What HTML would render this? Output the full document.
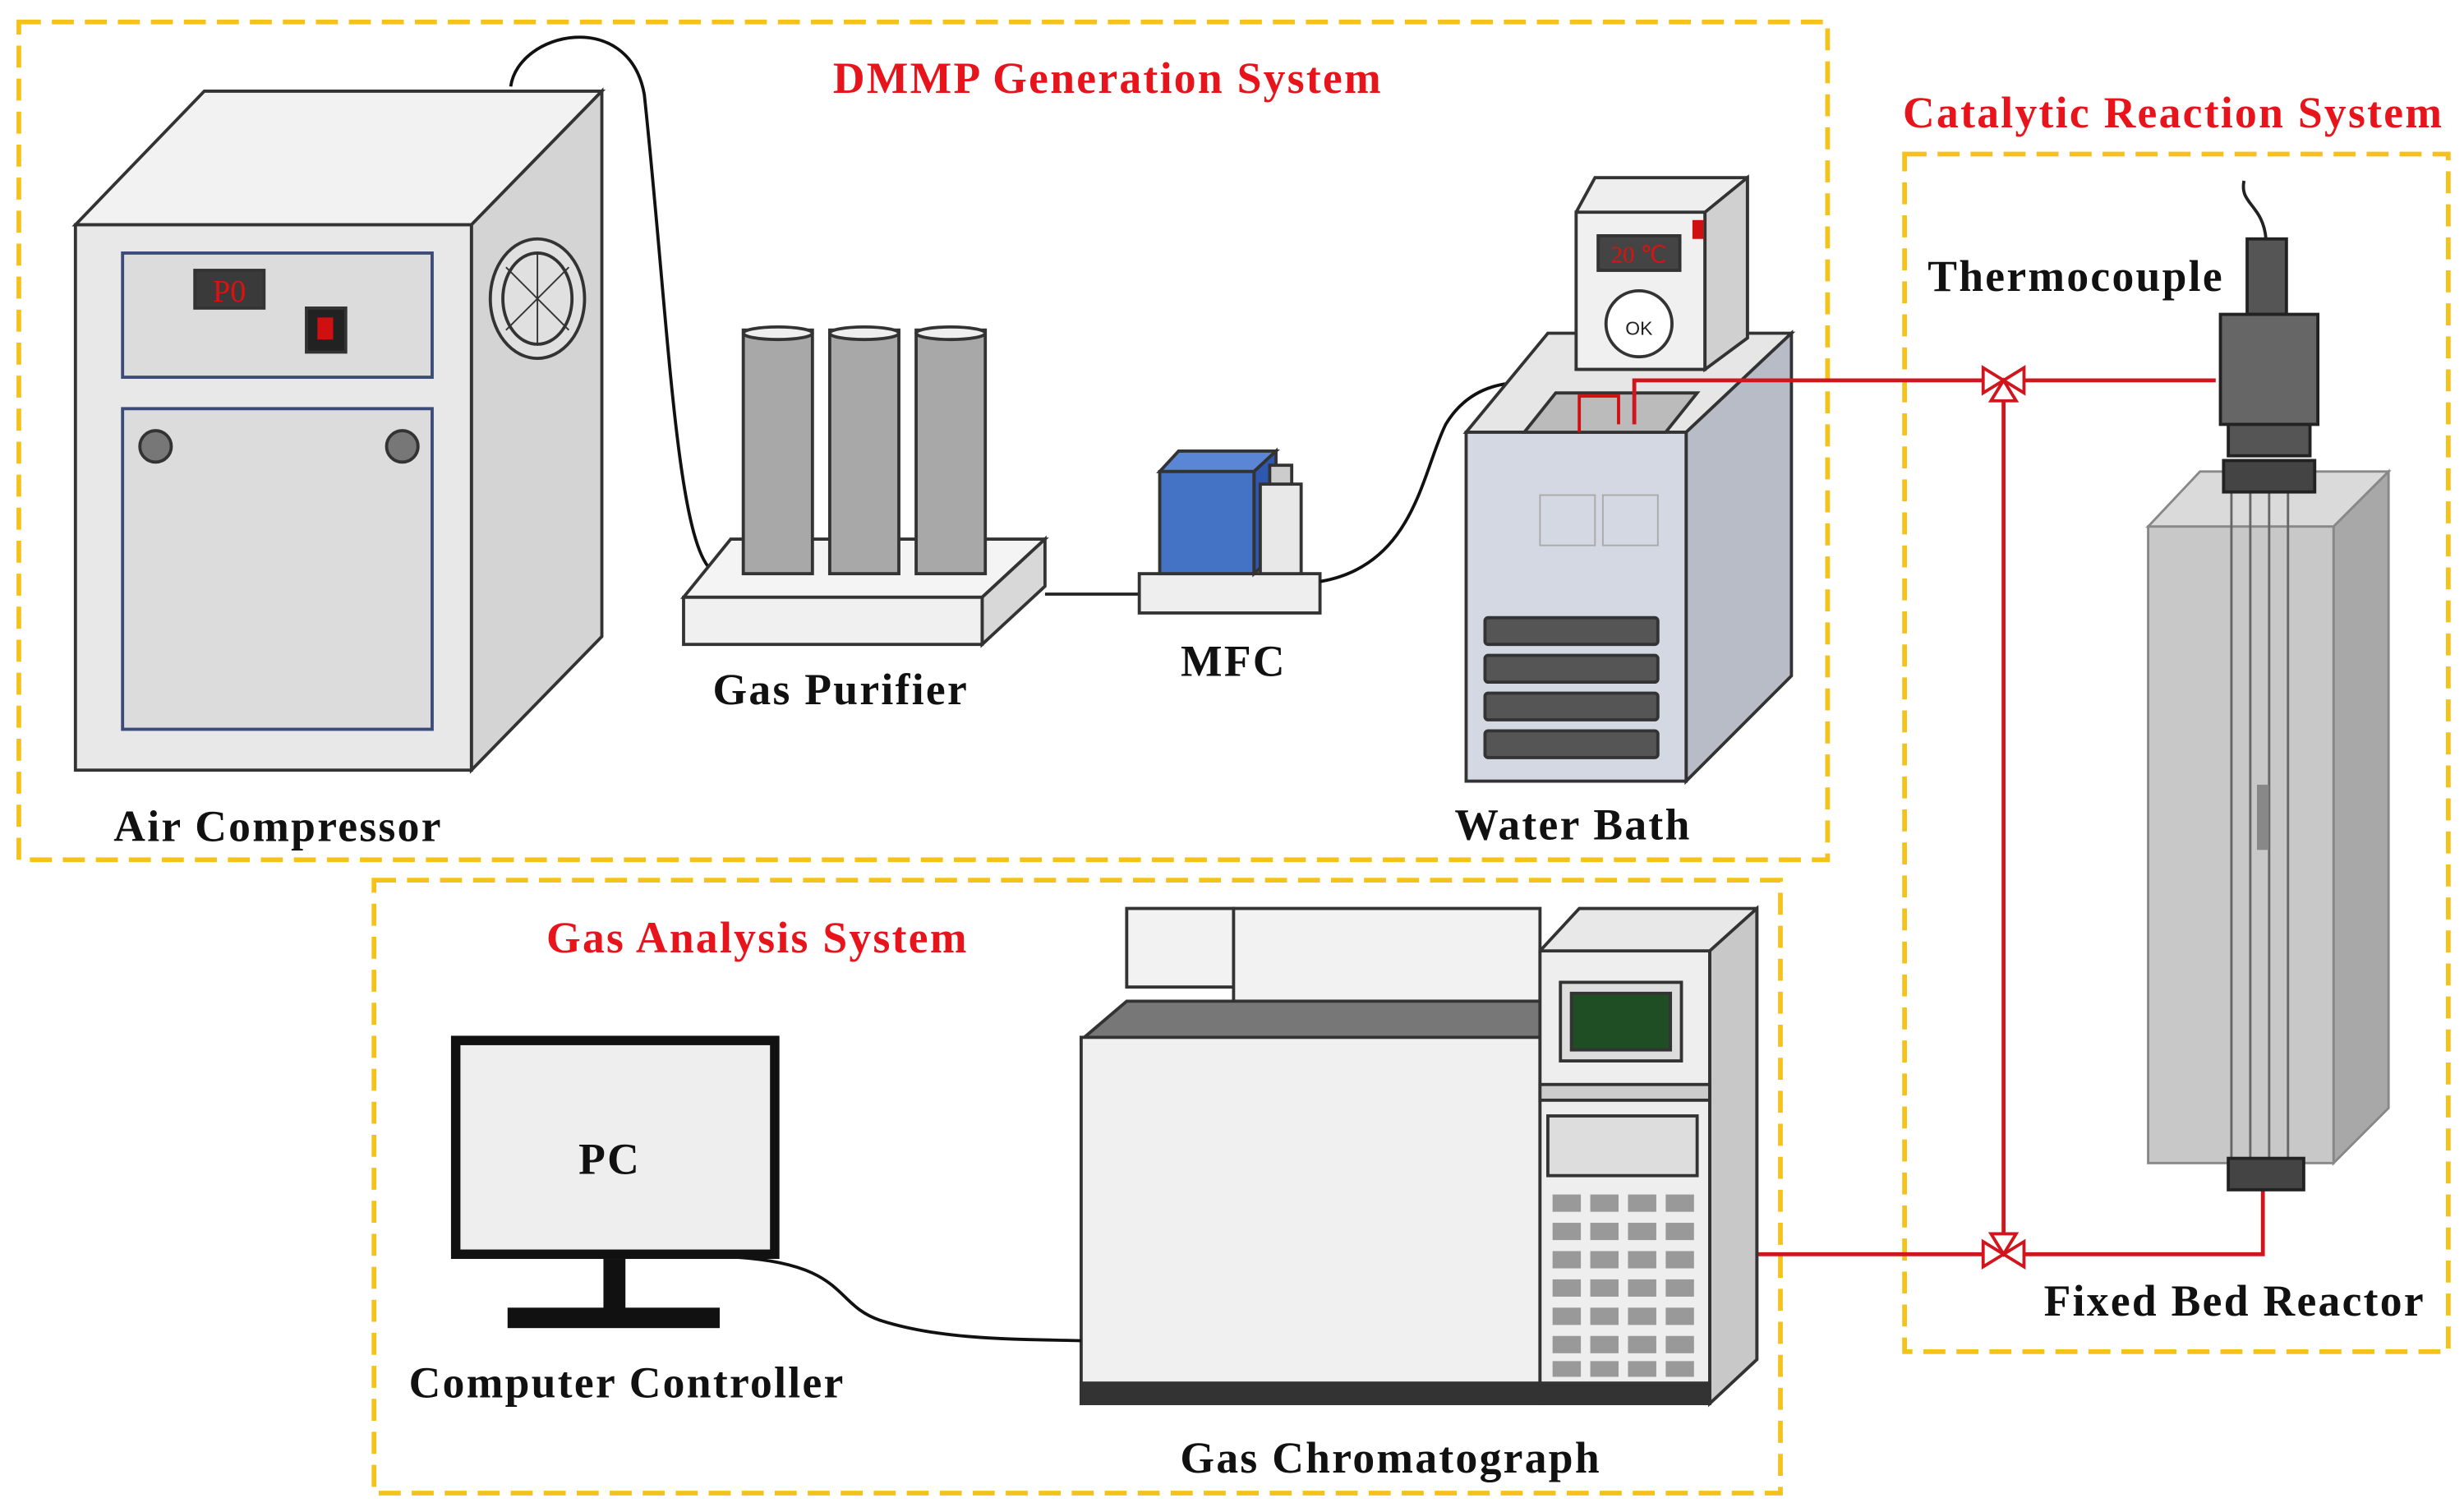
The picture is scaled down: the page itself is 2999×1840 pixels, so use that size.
<!DOCTYPE html>
<html><head><meta charset="utf-8"><style>
html,body{margin:0;padding:0;background:#fff}
svg{display:block}
.t{font-family:"Liberation Serif",serif;font-weight:bold;font-size:28px;letter-spacing:1.2px;fill:#111;text-anchor:middle}
.r{fill:#e8141c}
.box{fill:none;stroke:#f5c21b;stroke-width:3;stroke-dasharray:14,7}
</style></head><body>
<svg width="2999" height="1840" viewBox="0 0 1568 962" xmlns="http://www.w3.org/2000/svg">
<rect x="0" y="0" width="1568" height="962" fill="#fff"/>
<rect class="box" x="12" y="14" width="1151" height="533"/>
<rect class="box" x="1212" y="98" width="346" height="762"/>
<rect class="box" x="238" y="560" width="895" height="390"/>
<text class="t r" x="705" y="59">DMMP Generation System</text>
<text class="t r" x="1383" y="81">Catalytic Reaction System</text>
<text class="t r" x="482" y="606">Gas Analysis System</text>

<g stroke="#333" stroke-width="2">
<polygon points="48,143 130,58 383,58 300,143" fill="#f2f2f2"/>
<polygon points="300,143 383,58 383,405 300,490" fill="#d4d4d4"/>
<rect x="48" y="143" width="252" height="347" fill="#e8e8e8"/>
<rect x="78" y="161" width="197" height="79" fill="#dcdcdc" stroke="#3a4a7a"/>
<rect x="78" y="260" width="197" height="204" fill="#dcdcdc" stroke="#3a4a7a"/>
<rect x="124" y="172" width="44" height="24" fill="#3a3a3a"/>
<rect x="195" y="196" width="25" height="28" fill="#222"/>
<circle cx="99" cy="284" r="10" fill="#777"/>
<circle cx="256" cy="284" r="10" fill="#777"/>
<ellipse cx="342" cy="190" rx="30" ry="38" fill="#e0e0e0"/>
<ellipse cx="342" cy="190" rx="22" ry="29" fill="none"/>
<line x1="322" y1="170" x2="362" y2="210" stroke-width="1"/>
<line x1="362" y1="170" x2="322" y2="210" stroke-width="1"/>
<line x1="342" y1="160" x2="342" y2="220" stroke-width="1"/>
</g>
<text x="146" y="192" font-family="Liberation Serif" font-size="20" fill="#e01010" text-anchor="middle">P0</text>
<rect x="202" y="202" width="10" height="14" fill="#d01010"/>
<path d="M325,55 C330,20 400,5 410,60 C425,200 430,340 452,362" fill="none" stroke="#111" stroke-width="2"/>
<text class="t" x="177" y="535">Air Compressor</text>

<g stroke="#333" stroke-width="2">
<polygon points="435,380 465,343 665,343 625,380" fill="#f4f4f4"/>
<polygon points="625,380 665,343 665,373 625,410" fill="#d8d8d8"/>
<rect x="435" y="380" width="190" height="30" fill="#f0f0f0"/>
<rect x="473" y="210" width="44" height="155" fill="#a8a8a8"/>
<rect x="528" y="210" width="44" height="155" fill="#a8a8a8"/>
<rect x="583" y="210" width="44" height="155" fill="#a8a8a8"/>
<ellipse cx="495" cy="212" rx="22" ry="4" fill="#eee"/>
<ellipse cx="550" cy="212" rx="22" ry="4" fill="#eee"/>
<ellipse cx="605" cy="212" rx="22" ry="4" fill="#eee"/>
</g>
<text class="t" x="535" y="448">Gas Purifier</text>
<line x1="665" y1="378" x2="725" y2="378" stroke="#222" stroke-width="2"/>

<g stroke="#333" stroke-width="2">
<rect x="725" y="365" width="115" height="25" fill="#eee"/>
<polygon points="738,300 750,287 812,287 798,300" fill="#5b86d6"/>
<polygon points="798,300 812,287 812,352 798,365" fill="#2e58b0"/>
<rect x="738" y="300" width="60" height="65" fill="#4472c4"/>
<rect x="802" y="308" width="26" height="57" fill="#e8e8e8"/>
<rect x="808" y="296" width="14" height="12" fill="#ccc"/>
</g>
<text class="t" x="785" y="430">MFC</text>
<path d="M840,370 C900,360 905,300 920,270 C935,245 960,240 990,245" fill="none" stroke="#111" stroke-width="2"/>

<g stroke="#333" stroke-width="2">
<polygon points="933,275 985,212 1140,212 1073,275" fill="#e6e6e6"/>
<polygon points="1073,275 1140,212 1140,430 1073,497" fill="#b8bcc6"/>
<rect x="933" y="275" width="140" height="222" fill="#d4d8e2"/>
<polygon points="970,275 990,250 1080,250 1060,275" fill="#bbb"/>
<rect x="945" y="393" width="110" height="17" fill="#555" rx="2"/>
<rect x="945" y="417" width="110" height="17" fill="#555" rx="2"/>
<rect x="945" y="441" width="110" height="17" fill="#555" rx="2"/>
<rect x="945" y="465" width="110" height="17" fill="#555" rx="2"/>
<rect x="980" y="315" width="35" height="32" fill="none" stroke="#aaa" stroke-width="1"/>
<rect x="1020" y="315" width="35" height="32" fill="none" stroke="#aaa" stroke-width="1"/>
<polygon points="1003,135 1015,113 1112,113 1112,215 1085,235 1003,235" fill="#eee"/>
<rect x="1003" y="135" width="82" height="100" fill="#f0f0f0"/>
<polygon points="1085,135 1112,113 1112,215 1085,235" fill="#d0d0d0"/>
<rect x="1017" y="150" width="52" height="22" fill="#444"/>
<circle cx="1043" cy="206" r="21" fill="#fff"/>
<rect x="1077" y="140" width="7" height="12" fill="#d01010" stroke="none"/>
</g>
<text x="1043" y="167" font-family="Liberation Serif" font-size="15" fill="#e01010" text-anchor="middle">20 ℃</text>
<text x="1043" y="213" font-family="Liberation Sans" font-size="12" fill="#222" text-anchor="middle">OK</text>
<text class="t" x="1001" y="534">Water Bath</text>
<path d="M1005,275 V252 H1030 V270" fill="none" stroke="#d01010" stroke-width="2"/>

<g stroke="#d0161c" stroke-width="2.5" fill="none">
<path d="M1040,270 V242 H1410"/>
<path d="M1275,242 V798"/>
<path d="M1118,798 H1440 V757"/>
</g>
<g stroke="#d0161c" stroke-width="2" fill="#fff">
<polygon points="1262,234 1262,250 1288,234 1288,250"/>
<polygon points="1267,255 1283,255 1275,242"/>
<polygon points="1262,790 1262,806 1288,790 1288,806"/>
<polygon points="1267,785 1283,785 1275,798"/>
</g>

<g stroke="#888" stroke-width="1.5">
<polygon points="1367,335 1400,300 1520,300 1485,335" fill="#dadada"/>
<polygon points="1485,335 1520,300 1520,705 1485,740" fill="#a8a8a8"/>
<rect x="1367" y="335" width="118" height="405" fill="#c8c8c8"/>
<line x1="1420" y1="310" x2="1420" y2="740" stroke="#666"/>
<line x1="1432" y1="310" x2="1432" y2="740" stroke="#666"/>
<line x1="1444" y1="310" x2="1444" y2="740" stroke="#666"/>
<line x1="1456" y1="310" x2="1456" y2="740" stroke="#666"/>
<rect x="1437" y="500" width="6" height="40" fill="#888"/>
</g>
<g stroke="#222" stroke-width="2">
<path d="M1442,152 C1440,130 1425,130 1428,115" fill="none"/>
<rect x="1430" y="152" width="25" height="48" fill="#555"/>
<rect x="1413" y="200" width="62" height="70" fill="#666"/>
<rect x="1418" y="270" width="52" height="20" fill="#555"/>
<rect x="1415" y="293" width="58" height="20" fill="#444"/>
<rect x="1418" y="737" width="48" height="20" fill="#444"/>
</g>
<text class="t" x="1321" y="185">Thermocouple</text>
<text class="t" x="1422" y="837">Fixed Bed Reactor</text>

<g stroke="#333" stroke-width="2">
<rect x="717" y="578" width="68" height="50" fill="#f2f2f2"/>
<rect x="785" y="578" width="195" height="59" fill="#f2f2f2"/>
<polygon points="690,660 717,637 980,637 980,660" fill="#777"/>
<rect x="688" y="660" width="292" height="233" fill="#f0f0f0"/>
<rect x="688" y="880" width="292" height="13" fill="#333"/>
<polygon points="980,605 1005,578 1118,578 1118,865 1088,893 980,893" fill="#e8e8e8"/>
<polygon points="1088,605 1118,578 1118,865 1088,893" fill="#c8c8c8"/>
<rect x="980" y="605" width="108" height="288" fill="#eeeeee"/>
<rect x="993" y="625" width="77" height="50" fill="#ddd"/>
<rect x="1000" y="632" width="63" height="36" fill="#1f4d24"/>
<rect x="980" y="690" width="108" height="10" fill="#ccc"/>
<rect x="985" y="710" width="95" height="38" fill="#ddd"/>
<rect x="980" y="880" width="108" height="13" fill="#333"/>
</g>
<g fill="#999">
<rect x="988" y="760" width="18" height="11"/><rect x="1012" y="760" width="18" height="11"/><rect x="1036" y="760" width="18" height="11"/><rect x="1060" y="760" width="18" height="11"/>
<rect x="988" y="778" width="18" height="11"/><rect x="1012" y="778" width="18" height="11"/><rect x="1036" y="778" width="18" height="11"/><rect x="1060" y="778" width="18" height="11"/>
<rect x="988" y="796" width="18" height="11"/><rect x="1012" y="796" width="18" height="11"/><rect x="1036" y="796" width="18" height="11"/><rect x="1060" y="796" width="18" height="11"/>
<rect x="988" y="814" width="18" height="11"/><rect x="1012" y="814" width="18" height="11"/><rect x="1036" y="814" width="18" height="11"/><rect x="1060" y="814" width="18" height="11"/>
<rect x="988" y="832" width="18" height="11"/><rect x="1012" y="832" width="18" height="11"/><rect x="1036" y="832" width="18" height="11"/><rect x="1060" y="832" width="18" height="11"/>
<rect x="988" y="850" width="18" height="11"/><rect x="1012" y="850" width="18" height="11"/><rect x="1036" y="850" width="18" height="11"/><rect x="1060" y="850" width="18" height="11"/>
<rect x="988" y="866" width="18" height="10"/><rect x="1012" y="866" width="18" height="10"/><rect x="1036" y="866" width="18" height="10"/><rect x="1060" y="866" width="18" height="10"/>
</g>
<text class="t" x="885" y="937">Gas Chromatograph</text>

<rect x="290" y="662" width="203" height="136" fill="#eeeeee" stroke="#111" stroke-width="6"/>
<rect x="384" y="801" width="14" height="32" fill="#111"/>
<rect x="323" y="832" width="135" height="13" fill="#111"/>
<text class="t" x="388" y="747" font-size="30">PC</text>
<path d="M470,800 C540,805 530,830 560,840 C600,853 650,852 688,853" fill="none" stroke="#111" stroke-width="2"/>
<text class="t" x="399" y="889">Computer Controller</text>
</svg>
</body></html>
